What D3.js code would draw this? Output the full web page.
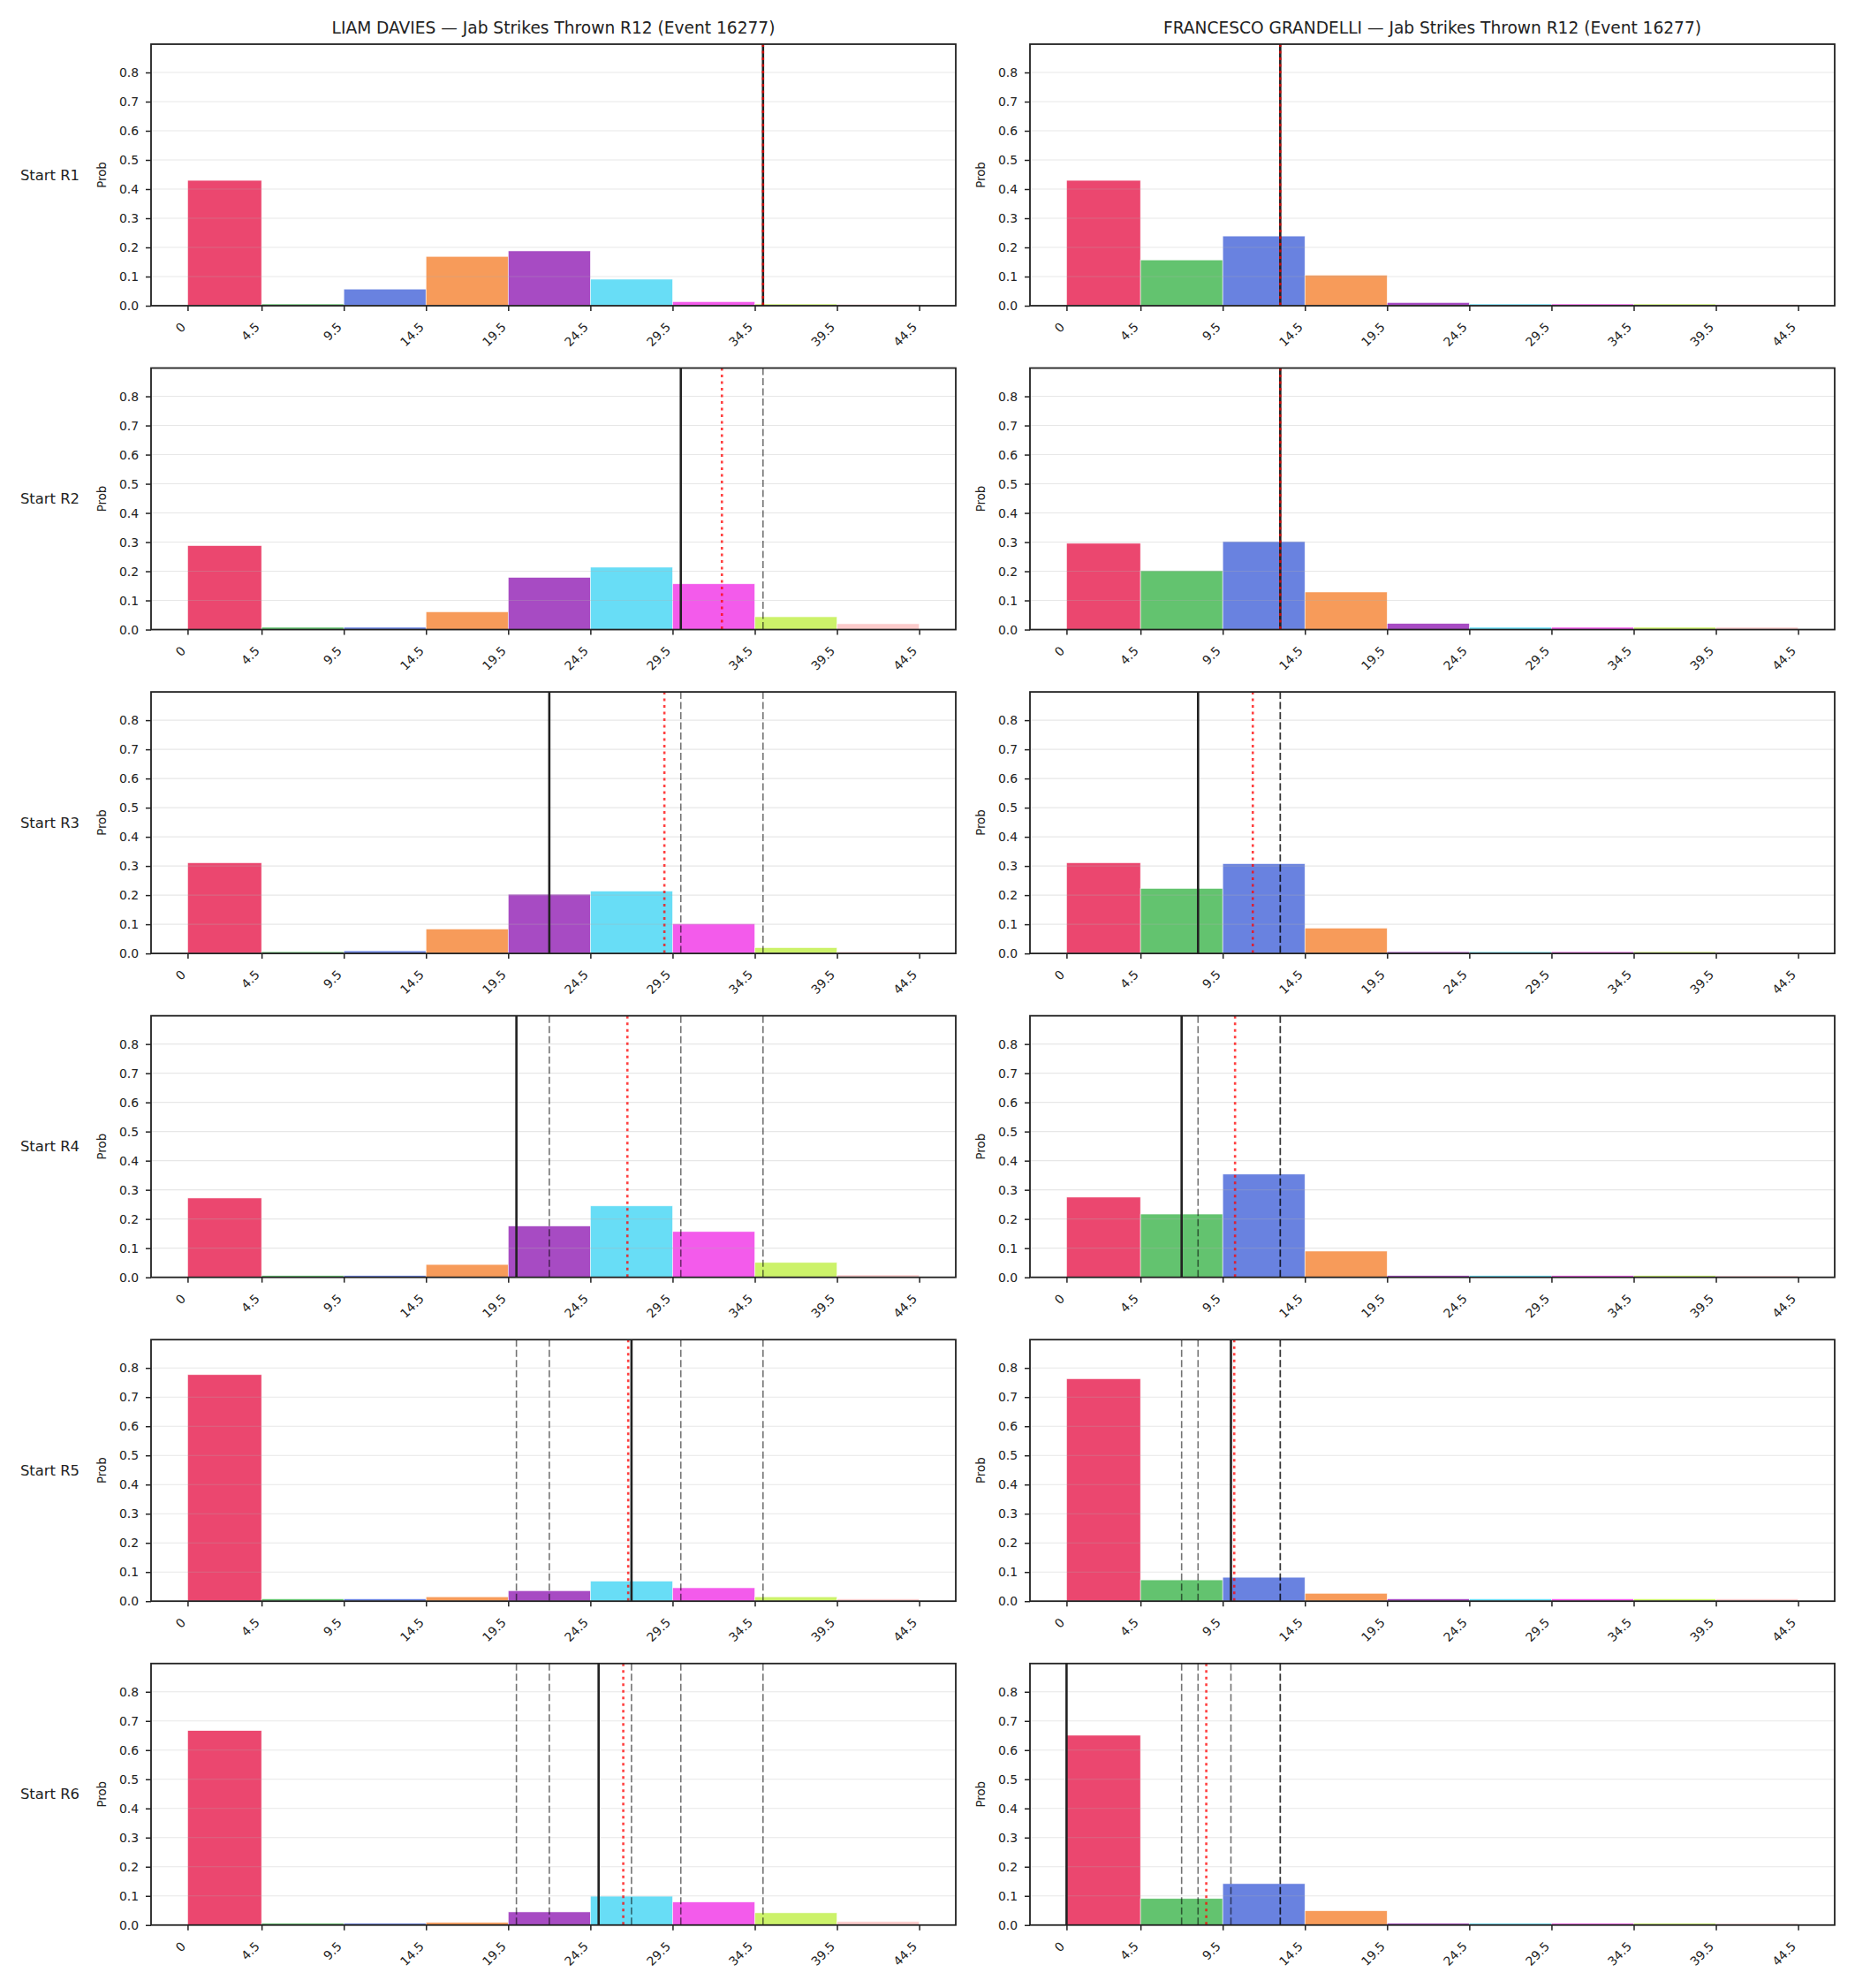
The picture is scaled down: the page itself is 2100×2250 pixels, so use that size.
<!DOCTYPE html>
<html><head><meta charset="utf-8">
<script src="https://cdn.jsdelivr.net/npm/d3@7"></script>
<style>
body{margin:0;background:#fff}
svg{display:block}
text{font-family:"DejaVu Sans",sans-serif;fill:#222}
</style>
</head><body>
<script>
// ---------- data ----------
const fighters = ["LIAM DAVIES", "FRANCESCO GRANDELLI"];
const titleSuffix = " — Jab Strikes Thrown R12 (Event 16277)";
const rowLabels = ["Start R1", "Start R2", "Start R3", "Start R4", "Start R5", "Start R6"];
const binEdges = [0, 4.5, 9.5, 14.5, 19.5, 24.5, 29.5, 34.5, 39.5, 44.5];
const tickLabels = ["0", "4.5", "9.5", "14.5", "19.5", "24.5", "29.5", "34.5", "39.5", "44.5"];
const binColors = ["#e6194b", "#3cb44b", "#4363d8", "#f58231", "#911eb4", "#42d4f4", "#f032e6", "#bfef45", "#fabebe"];
const yTicks = [0, 0.1, 0.2, 0.3, 0.4, 0.5, 0.6, 0.7, 0.8];
const yMax = 0.897;
const xDomain = [-2.225, 46.725];

// probability per bin, one array per starting round
const daviesProbs = [
  [0.430, 0.006, 0.057, 0.169, 0.188, 0.091, 0.014, 0.006, 0.005],
  [0.288, 0.008, 0.008, 0.061, 0.179, 0.214, 0.157, 0.044, 0.020],
  [0.311, 0.006, 0.009, 0.084, 0.203, 0.214, 0.102, 0.020, 0.006],
  [0.272, 0.006, 0.006, 0.044, 0.176, 0.245, 0.157, 0.051, 0.008],
  [0.777, 0.008, 0.008, 0.015, 0.036, 0.069, 0.046, 0.015, 0.008],
  [0.667, 0.006, 0.006, 0.009, 0.045, 0.099, 0.079, 0.042, 0.012]
];
const grandelliProbs = [
  [0.430, 0.157, 0.239, 0.105, 0.011, 0.006, 0.006, 0.006, 0.005],
  [0.296, 0.202, 0.302, 0.129, 0.021, 0.008, 0.008, 0.008, 0.008],
  [0.311, 0.223, 0.308, 0.087, 0.006, 0.006, 0.006, 0.006, 0.005],
  [0.275, 0.217, 0.354, 0.090, 0.006, 0.006, 0.006, 0.006, 0.005],
  [0.763, 0.073, 0.082, 0.027, 0.008, 0.008, 0.008, 0.008, 0.008],
  [0.651, 0.091, 0.142, 0.049, 0.006, 0.006, 0.006, 0.006, 0.005]
];
// per-round marker (solid line), earlier rounds shown dashed, running mean dotted red
const daviesRoundValue = [35, 30, 22, 20, 27, 25];
const grandelliRoundValue = [13, 13, 8, 7, 10, 0];
const daviesMean = [35, 32.5, 29, 26.75, 26.8, 26.5];
const grandelliMean = [13, 13, 11.33, 10.25, 10.2, 8.5];

// ---------- layout ----------
const W = 2100, H = 2250;
const panelLeft = [171, 1166];
const panelW = 911;
const panelH = 296;
const firstTop = 50;
const rowStep = 366.55;

const svg = d3.select("body").append("svg").attr("width", W).attr("height", H);
svg.append("rect").attr("width", W).attr("height", H).attr("fill", "#fff");

const panels = [
  {name: fighters[0], probs: daviesProbs, vals: daviesRoundValue, means: daviesMean},
  {name: fighters[1], probs: grandelliProbs, vals: grandelliRoundValue, means: grandelliMean}
];

const bins = binEdges.slice(0, -1).map((e, i) => ({x0: e, x1: binEdges[i + 1], color: binColors[i]}));

panels.forEach((p, c) => {
  const L = panelLeft[c];
  const x = d3.scaleLinear().domain(xDomain).range([L, L + panelW]);
  p.probs.forEach((row, r) => {
    const top = firstTop + r * rowStep;
    const bottom = top + panelH;
    const y = d3.scaleLinear().domain([0, yMax]).range([bottom, top]);
    const g = svg.append("g");

    // bars
    g.selectAll("rect.bar").data(bins.map((b, i) => ({...b, v: row[i]}))).join("rect")
      .attr("class", "bar")
      .attr("x", d => x(d.x0)).attr("width", d => x(d.x1) - x(d.x0))
      .attr("y", d => y(d.v)).attr("height", d => y(0) - y(d.v))
      .attr("fill", d => d.color).attr("fill-opacity", 0.8)
      .attr("stroke", "#fff").attr("stroke-opacity", 0.8).attr("stroke-width", 0.7);

    // grid
    g.selectAll("line.grid").data(yTicks).join("line")
      .attr("x1", L).attr("x2", L + panelW)
      .attr("y1", d => y(d)).attr("y2", d => y(d))
      .attr("stroke", "#b0b0b0").attr("stroke-opacity", 0.3).attr("stroke-width", 1.1);

    // previous-round dashed lines
    const prev = p.vals.slice(0, r);
    g.selectAll("line.prev").data(prev).join("line")
      .attr("x1", d => x(d)).attr("x2", d => x(d))
      .attr("y1", top).attr("y2", bottom)
      .attr("stroke", "#000").attr("stroke-opacity", 0.55)
      .attr("stroke-width", 1.6).attr("stroke-dasharray", "8,3.5");

    // current round solid line
    g.append("line")
      .attr("x1", x(p.vals[r])).attr("x2", x(p.vals[r]))
      .attr("y1", top).attr("y2", bottom)
      .attr("stroke", "#222").attr("stroke-width", 2.6);

    // running mean red dotted
    g.append("line")
      .attr("x1", x(p.means[r])).attr("x2", x(p.means[r]))
      .attr("y1", top).attr("y2", bottom)
      .attr("stroke", "#ff0000").attr("stroke-opacity", 0.75)
      .attr("stroke-width", 2.6).attr("stroke-dasharray", "3,4.5");

    // axes
    const ax = g.append("g").attr("transform", `translate(0,${bottom})`)
      .call(d3.axisBottom(x).tickValues(binEdges).tickFormat((d, i) => tickLabels[i]).tickSize(6).tickSizeOuter(0));
    ax.select(".domain").remove();
    ax.selectAll(".tick line").attr("stroke", "#222").attr("stroke-width", 1.5);
    ax.selectAll(".tick text")
      .attr("x", 0).attr("y", 0).attr("dy", 0)
      .attr("text-anchor", "end")
      .attr("transform", "translate(-2,25) rotate(-45)")
      .style("font-size", "13.9px").attr("fill", "#222");

    const ay = g.append("g").attr("transform", `translate(${L},0)`)
      .call(d3.axisLeft(y).tickValues(yTicks).tickFormat(d3.format(".1f")).tickSize(6).tickPadding(8).tickSizeOuter(0));
    ay.select(".domain").remove();
    ay.selectAll(".tick line").attr("stroke", "#222").attr("stroke-width", 1.5);
    ay.selectAll(".tick text").style("font-size", "13.9px").attr("fill", "#222");

    // frame
    g.append("rect").attr("x", L).attr("y", top).attr("width", panelW).attr("height", panelH)
      .attr("fill", "none").attr("stroke", "#222").attr("stroke-width", 1.8);

    // y label
    g.append("text").attr("transform", `translate(${L - 55.5},${(top + bottom) / 2}) rotate(-90)`)
      .attr("text-anchor", "middle").attr("dominant-baseline", "central")
      .style("font-size", "13.3px").text("Prob");

    if (c === 0) {
      g.append("text").attr("x", 90).attr("y", (top + bottom) / 2)
        .attr("text-anchor", "end").attr("dominant-baseline", "central")
        .style("font-size", "16.4px").text(rowLabels[r]);
    }
    if (r === 0) {
      g.append("text").attr("x", L + panelW / 2).attr("y", 37.5)
        .attr("text-anchor", "middle").style("font-size", "18.6px").text(p.name + titleSuffix);
    }
  });
});
</script>
</body></html>
